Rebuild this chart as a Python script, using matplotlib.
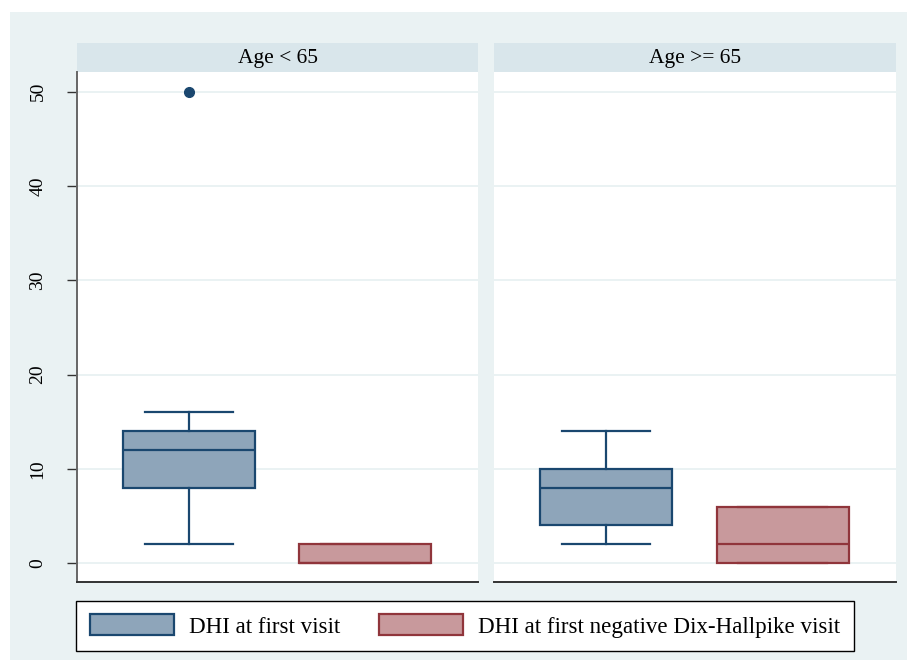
import matplotlib
matplotlib.use("Agg")
import matplotlib.pyplot as plt
from matplotlib.patches import Rectangle

plt.rcParams["font.family"] = ["Liberation Serif", "DejaVu Serif"]

# Data: DHI scores by age group
panels = ["Age < 65", "Age >= 65"]
series = ["DHI at first visit", "DHI at first negative Dix-Hallpike visit"]

# box statistics per panel: [first visit, negative visit]
q1 = [[8, 0], [4, 0]]
median = [[12, 0], [8, 2]]
q3 = [[14, 2], [10, 6]]
whisker_low = [[2, 0], [2, 0]]
whisker_high = [[16, 2], [14, 6]]
outliers = [[[50], []], [[], []]]

yticks = [0, 10, 20, 30, 40, 50]

edge_colors = ["#1a476f", "#90353b"]
fill_colors = ["#8ea5ba", "#c8999c"]
bg = "#eaf2f3"
strip = "#d9e6eb"

W, H = 914, 671
fig = plt.figure(figsize=(W / 100, H / 100), dpi=100)
fig.patch.set_facecolor("white")

# outer graph region
fig.patches.append(Rectangle((10 / W, 1 - 660 / H), 897 / W, 648 / H,
                             transform=fig.transFigure, facecolor=bg,
                             edgecolor="none", zorder=-10))

panel_x = [(77, 478), (494, 896)]
top_px, bot_px = 72, 582
positions = [0.279, 0.718]

for i, (x0, x1) in enumerate(panel_x):
    ax = fig.add_axes([x0 / W, 1 - bot_px / H, (x1 - x0) / W, (bot_px - top_px) / H])
    ax.set_facecolor("white")
    ax.set_xlim(0, 1)
    ax.set_ylim(-2.0, 52.1)
    for y in yticks:
        ax.axhline(y, color=bg, lw=1.4, zorder=0.5)

    for j in range(2):
        stats = [dict(med=median[i][j], q1=q1[i][j], q3=q3[i][j],
                      whislo=whisker_low[i][j], whishi=whisker_high[i][j],
                      fliers=outliers[i][j])]
        ec = edge_colors[j]
        ax.bxp(stats, positions=[positions[j]], widths=0.329, patch_artist=True,
               showfliers=True, manage_ticks=False,
               boxprops=dict(facecolor=fill_colors[j], edgecolor=ec, lw=1.6),
               medianprops=dict(color=ec, lw=1.6),
               whiskerprops=dict(color=ec, lw=1.6),
               capprops=dict(color=ec, lw=1.6),
               capwidths=0.22,
               flierprops=dict(marker="o", markersize=7, markerfacecolor=ec,
                               markeredgecolor=ec))

    for s in ["top", "right"]:
        ax.spines[s].set_visible(False)
    ax.spines["bottom"].set_color("#333333")
    ax.spines["bottom"].set_linewidth(1.4)
    ax.set_xticks([])
    if i == 0:
        ax.spines["left"].set_color("#666666")
        ax.spines["left"].set_linewidth(1.4)
        ax.set_yticks(yticks)
        ax.set_yticklabels([str(v) for v in yticks], rotation=90, va="center",
                           fontsize=14)
        ax.tick_params(axis="y", length=7, width=1.0, color="#333333", pad=15)
    else:
        ax.spines["left"].set_visible(False)
        ax.set_yticks([])

    # panel title strip
    fig.patches.append(Rectangle((x0 / W, 1 - top_px / H), (x1 - x0) / W, 29 / H,
                                 transform=fig.transFigure, facecolor=strip,
                                 edgecolor="none", zorder=-5))
    fig.text((x0 + x1) / 2 / W, 1 - 58 / H, panels[i], ha="center",
             va="center", fontsize=15.5)

# legend
handles = [Rectangle((0, 0), 1, 1, facecolor=fill_colors[k],
                     edgecolor=edge_colors[k], lw=1.6) for k in range(2)]
leg = fig.legend(handles, series, loc="center",
                 bbox_to_anchor=(465 / W, 1 - 626 / H), ncol=2, fontsize=16.6,
                 frameon=True, fancybox=False, edgecolor="black",
                 handlelength=3.65, handleheight=1.0, handletextpad=0.66,
                 columnspacing=1.65, borderpad=0.6)
leg.get_frame().set_linewidth(1.0)
leg.get_frame().set_alpha(1.0)

fig.savefig("out.png", dpi=100, facecolor=fig.get_facecolor())
